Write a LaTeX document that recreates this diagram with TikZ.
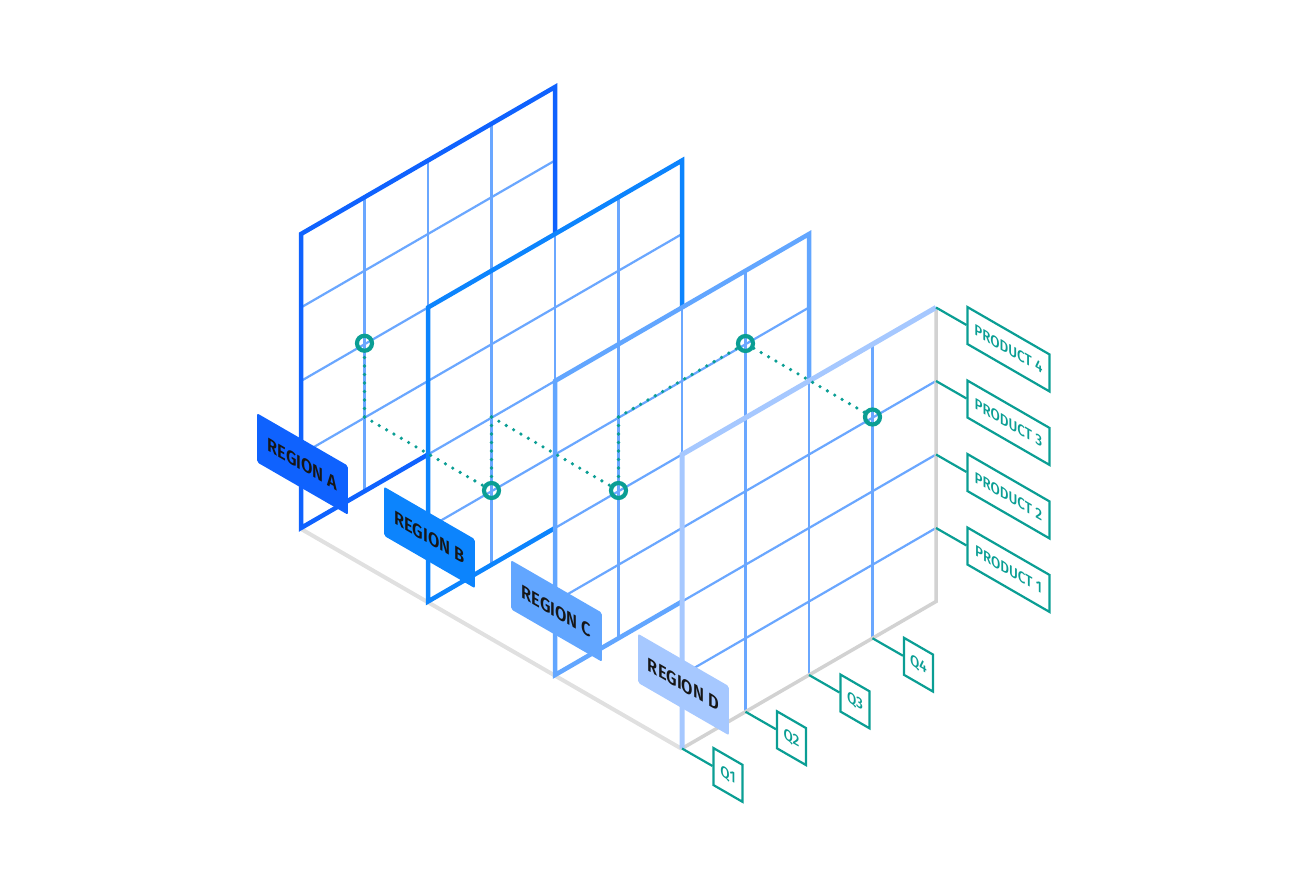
\documentclass[tikz,border=0pt]{standalone}
\usepackage{fontspec}
\usetikzlibrary{calc}
\setmainfont{Fira Sans}
\newfontfamily\regfont{Fira Sans SemiBold}
\newfontfamily\labfont{Fira Sans Medium}
\definecolor{blueA}{HTML}{0F62FE}
\definecolor{blueB}{HTML}{0C84FD}
\definecolor{blueC}{HTML}{62A6FF}
\definecolor{blueD}{HTML}{A6C8FF}
\definecolor{gridc}{HTML}{6AA7FF}
\definecolor{tealc}{HTML}{0A9E94}
\definecolor{greyfloor}{HTML}{E0E0E0}
\definecolor{greyedge}{HTML}{D2D2D2}
\definecolor{inkc}{HTML}{161616}
\tikzset{
  iso/.style={cm={0.866,-0.5,0,1,(0,0)}},
  gridline/.style={draw=gridc, line width=2.2},
  frame/.style={line width=4.5, line join=miter},
  tagbox/.style={iso, minimum width=105, minimum height=49, inner sep=0,
    rounded corners=2, text=inkc, font=\regfont\fontsize{19}{19}\selectfont},
  labbox/.style={draw=tealc, line width=2.2, iso, minimum height=37, inner sep=0,
    text=tealc, font=\labfont\fontsize{15.5}{16}\selectfont, anchor=west},
  prodbox/.style={labbox, minimum width=94.7},
  qbox/.style={labbox, minimum width=33.5},
  tickline/.style={draw=tealc, line width=2.2},
  dotline/.style={draw=tealc, line width=3.6, line cap=round, dash pattern=on 0pt off 8.5pt},
  dotc/.style={circle, draw=tealc, line width=4.2, minimum size=15, inner sep=0}
}
\newcommand\drawpanel[3]{%
  \fill[white] (#1,#2) -- ++(0,-294) -- ++(254,-147) -- ++(0,294) -- cycle;
  \foreach \i in {1,2,3} {
    \draw[gridline] (#1+63.5*\i, #2-36.75*\i) -- ++(0,-294);
    \draw[gridline] (#1, #2-73.5*\i) -- ++(254,-147);
  }
  \draw[frame, draw=#3] (#1,#2) -- ++(0,-294) -- ++(254,-147) -- ++(0,294) -- cycle;
}
\begin{document}
\begin{tikzpicture}[x=1pt,y=-1pt]
\useasboundingbox (0,0) rectangle (1310,880);
% floor line
\draw[greyfloor, line width=4] (302,529.5) -- (682,749);
% panel A
\drawpanel{301}{528}{blueA}
\node[tagbox, fill=blueA] (ra) at (302.5,464) {REGION A};
% panel B
\drawpanel{428}{601.5}{blueB}
\node[tagbox, fill=blueB] (rb) at (429.5,537.5) {REGION B};
% panel C
\drawpanel{555}{675}{blueC}
\node[tagbox, fill=blueC] (rc) at (556.5,611) {REGION C};
% panel D
\fill[white] (682,748.5) -- ++(0,-294) -- ++(254,-147) -- ++(0,294) -- cycle;
\foreach \i in {1,2,3} {
  \draw[gridline] (682+63.5*\i, 748.5-36.75*\i) -- ++(0,-294);
  \draw[gridline] (682, 748.5-73.5*\i) -- ++(254,-147);
}
\draw[greyedge, line width=3.5] (936,307.5) -- (936,601.5) -- (682,748.5);
\draw[frame, draw=blueD, line width=5] (682,748.5) -- (682,454.5) -- (936,307.5);
\node[tagbox, fill=blueD] (rd) at (683.5,684.5) {REGION D};
% anchors for labels
\coordinate (p4) at (936,307.5);
\coordinate (p3) at (936,381);
\coordinate (p2) at (936,454.5);
\coordinate (p1) at (936,528);
\coordinate (q1) at (682,748.5);
\coordinate (q2) at (745.5,711.75);
\coordinate (q3) at (809,675);
\coordinate (q4) at (872.5,638.25);
\foreach \n/\t in {p4/PRODUCT 4,p3/PRODUCT 3,p2/PRODUCT 2,p1/PRODUCT 1} {
  \node[prodbox] (l\n) at ($(\n)+(30.5,17.5)$) {\t};
  \draw[tickline] (\n) -- (l\n.west);
}
\foreach \n/\t in {q1/Q1,q2/Q2,q3/Q3,q4/Q4} {
  \node[qbox] (l\n) at ($(\n)+(30.5,17.5)$) {\t};
  \draw[tickline] (\n) -- (l\n.west);
}
% dotted path and circles
\node[dotc] (c1) at (364.5,343.25) {};
\node[dotc] (c2) at (491.5,490.5) {};
\node[dotc] (c3) at (618.5,490.5) {};
\node[dotc] (c4) at (745.5,343.5) {};
\node[dotc] (c5) at (872.5,417) {};
\coordinate (k1) at (364.5,417);
\coordinate (k2) at (491.5,417);
\coordinate (k3) at (618.5,417);
\draw[dotline] (k1) -- (c1);
\draw[dotline] (k1) -- (c2);
\draw[dotline] (k2) -- (c2);
\draw[dotline] (k2) -- (c3);
\draw[dotline] (k3) -- (c3);
\draw[dotline] (k3) -- (c4);
\draw[dotline] (c4) -- (c5);
\end{tikzpicture}
\end{document}
